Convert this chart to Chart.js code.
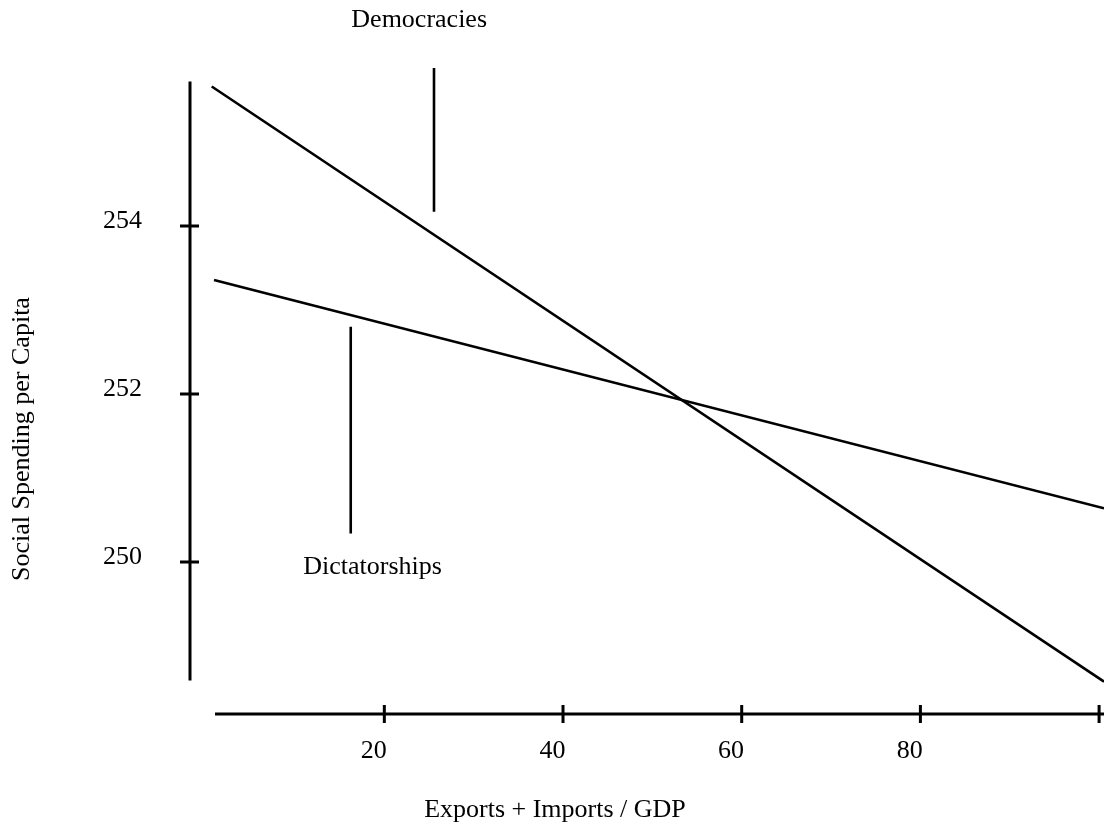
<!DOCTYPE html>
<html>
<head>
<meta charset="utf-8">
<script src="https://cdn.jsdelivr.net/npm/chart.js@4"></script>
<style>
  html, body { margin: 0; padding: 0; background: #fff; }
  canvas { display: block; }
</style>
</head>
<body>
<canvas id="chart" width="1104" height="831"></canvas>
<script>
// Predicted spending lines (two end points each)
const democracies = [{ x: 0.68, y: 255.66 }, { x: 100.55, y: 248.575 }];
const dictatorships = [{ x: 0.94, y: 253.357 }, { x: 100.55, y: 250.639 }];

// Short vertical pointer lines under / over the group labels
const democraciesPointer = [{ x: 25.56, y: 255.88 }, { x: 25.56, y: 254.17 }];
const dictatorshipsPointer = [{ x: 16.24, y: 252.80 }, { x: 16.24, y: 250.34 }];

const xTicks = [20, 40, 60, 80, 100];
const xTickLabels = ['20', '40', '60', '80', ''];
const yTicks = [250, 252, 254];
const yTickLabels = ['250', '252', '254'];

// Range the axis lines cover (Stata style, detached axes)
const xAxisSpan = [1.05, 100.55];
const yAxisSpan = [248.59, 255.72];

const xTitle = 'Exports + Imports / GDP';
const yTitle = 'Social Spending per Capita';
const notes = [
  { text: 'Democracies', x: 23.9, y: 256.45 },
  { text: 'Dictatorships', x: 18.68, y: 249.94 }
];

const FAMILY = '"Liberation Serif", "Times New Roman", serif';
const FONT_SIZE = 26;

// Draws the detached axis lines with crossing ticks, the notes and the axis titles
const stataAxes = {
  id: 'stataAxes',
  afterDraw: (chart) => {
    const { ctx, chartArea, scales: { x, y } } = chart;
    ctx.save();
    ctx.strokeStyle = '#000';
    ctx.lineWidth = 3;
    ctx.beginPath();

    // y axis
    const ax = chartArea.left;
    ctx.moveTo(ax, y.getPixelForValue(yAxisSpan[1]));
    ctx.lineTo(ax, y.getPixelForValue(yAxisSpan[0]));
    yTicks.forEach((v) => {
      const py = y.getPixelForValue(v);
      ctx.moveTo(ax - 10, py);
      ctx.lineTo(ax + 9, py);
    });

    // x axis
    const ay = chartArea.bottom;
    ctx.moveTo(x.getPixelForValue(xAxisSpan[0]), ay);
    ctx.lineTo(x.getPixelForValue(xAxisSpan[1]), ay);
    xTicks.forEach((v) => {
      const px = x.getPixelForValue(v);
      ctx.moveTo(px, ay - 9);
      ctx.lineTo(px, ay + 9);
    });
    ctx.stroke();

    // group labels and axis titles
    ctx.fillStyle = '#000';
    ctx.font = `${FONT_SIZE}px ${FAMILY}`;
    ctx.textAlign = 'center';
    ctx.textBaseline = 'middle';
    notes.forEach((n) => {
      ctx.fillText(n.text, x.getPixelForValue(n.x), y.getPixelForValue(n.y));
    });
    ctx.fillText(xTitle, 555, 810);
    ctx.translate(22, 439);
    ctx.rotate(-Math.PI / 2);
    ctx.fillText(yTitle, 0, 0);
    ctx.restore();
  }
};

const lineStyle = {
  borderColor: '#000',
  borderWidth: 2.6,
  pointRadius: 0,
  showLine: true,
  fill: false
};

new Chart(document.getElementById('chart').getContext('2d'), {
  type: 'scatter',
  data: {
    datasets: [
      { label: 'Democracies', data: democracies, ...lineStyle },
      { label: 'Dictatorships', data: dictatorships, ...lineStyle },
      { label: 'Democracies pointer', data: democraciesPointer, ...lineStyle },
      { label: 'Dictatorships pointer', data: dictatorshipsPointer, ...lineStyle }
    ]
  },
  options: {
    responsive: false,
    animation: false,
    events: [],
    layout: { padding: 0, autoPadding: false },
    plugins: {
      legend: { display: false },
      tooltip: { enabled: false }
    },
    scales: {
      x: {
        type: 'linear',
        min: -1.75,
        max: 100.55,
        grid: { display: false, drawTicks: false },
        border: { display: false },
        afterBuildTicks: (s) => { s.ticks = xTicks.map((v) => ({ value: v })); },
        afterFit: (s) => { s.height = 117; s.paddingLeft = 0; s.paddingRight = 0; },
        ticks: {
          autoSkip: false,
          maxRotation: 0,
          padding: 22,
          labelOffset: -10.6,
          color: '#000',
          font: { family: FAMILY, size: FONT_SIZE },
          callback: (v, i) => xTickLabels[i]
        }
      },
      y: {
        type: 'linear',
        min: 248.19,
        max: 256.69,
        grid: { display: false, drawTicks: false },
        border: { display: false },
        afterBuildTicks: (s) => { s.ticks = yTicks.map((v) => ({ value: v })); },
        afterFit: (s) => { s.width = 190; s.paddingTop = 0; s.paddingBottom = 0; },
        ticks: {
          autoSkip: false,
          padding: 48,
          labelOffset: -5,
          color: '#000',
          font: { family: FAMILY, size: FONT_SIZE },
          callback: (v, i) => yTickLabels[i]
        }
      }
    }
  },
  plugins: [stataAxes]
});
</script>
</body>
</html>
